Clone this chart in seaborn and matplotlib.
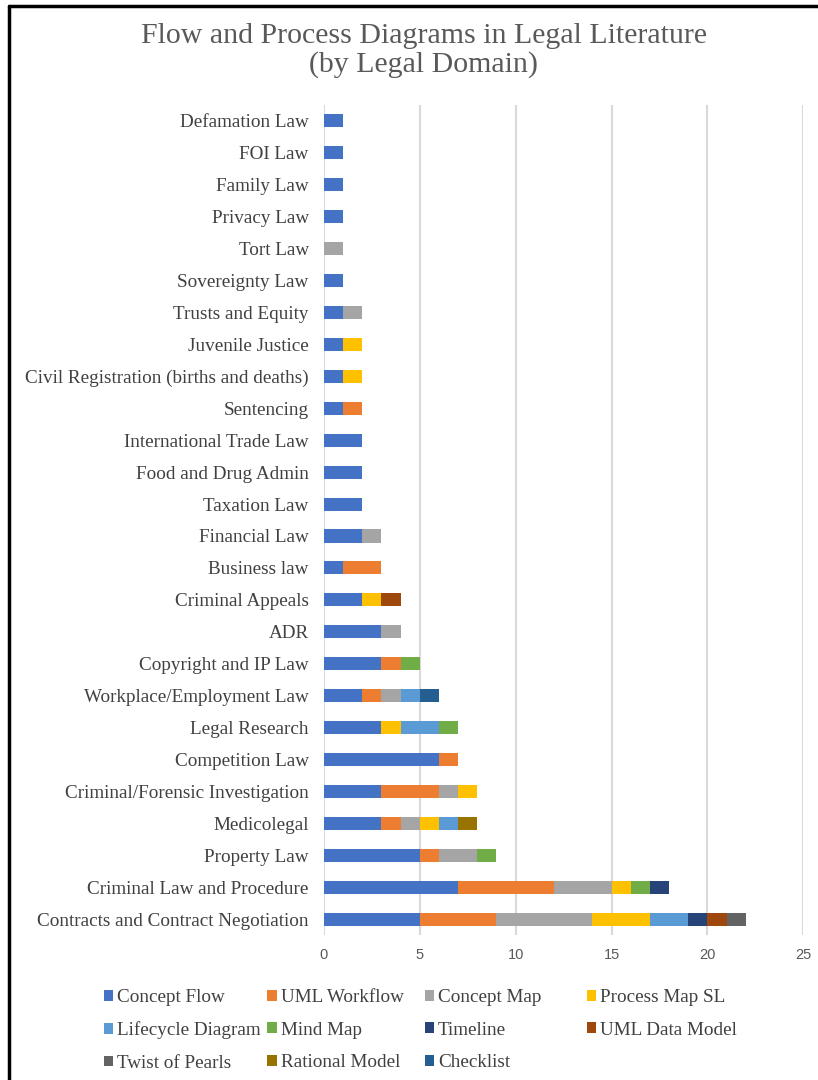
#!/usr/bin/env python3
"""Stacked horizontal bars: flow and process diagrams in legal literature by domain."""

import matplotlib
matplotlib.use("Agg")
import matplotlib.pyplot as plt
import pandas as pd
import seaborn as sns
from matplotlib.lines import Line2D
from matplotlib.patches import Patch

OUTPUT_PATH = "out.png"

DOMAINS = [
    "Defamation Law", "FOI Law", "Family Law", "Privacy Law", "Tort Law",
    "Sovereignty Law", "Trusts and Equity", "Juvenile Justice",
    "Civil Registration (births and deaths)", "Sentencing",
    "International Trade Law", "Food and Drug Admin", "Taxation Law",
    "Financial Law", "Business law", "Criminal Appeals", "ADR",
    "Copyright and IP Law", "Workplace/Employment Law", "Legal Research",
    "Competition Law", "Criminal/Forensic Investigation", "Medicolegal",
    "Property Law", "Criminal Law and Procedure",
    "Contracts and Contract Negotiation",
]

SERIES = [
    "Concept Flow", "UML Workflow", "Concept Map", "Process Map SL",
    "Lifecycle Diagram", "Mind Map", "Timeline", "UML Data Model",
    "Twist of Pearls", "Rational Model", "Checklist",
]

COLORS = [
    "#4472C4", "#ED7D31", "#A5A5A5", "#FFC000", "#5B9BD5", "#70AD47",
    "#264478", "#9E480E", "#636363", "#997300", "#255E91",
]

# counts per domain, same order as DOMAINS
concept_flow = [1, 1, 1, 1, 0, 1, 1, 1, 1, 1, 2, 2, 2, 2, 1, 2, 3, 3, 2, 3, 6, 3, 3, 5, 7, 5]
uml_workflow = [0, 0, 0, 0, 0, 0, 0, 0, 0, 1, 0, 0, 0, 0, 2, 0, 0, 1, 1, 0, 1, 3, 1, 1, 5, 4]
concept_map = [0, 0, 0, 0, 1, 0, 1, 0, 0, 0, 0, 0, 0, 1, 0, 0, 1, 0, 1, 0, 0, 1, 1, 2, 3, 5]
process_map_sl = [0, 0, 0, 0, 0, 0, 0, 1, 1, 0, 0, 0, 0, 0, 0, 1, 0, 0, 0, 1, 0, 1, 1, 0, 1, 3]
lifecycle = [0, 0, 0, 0, 0, 0, 0, 0, 0, 0, 0, 0, 0, 0, 0, 0, 0, 0, 1, 2, 0, 0, 1, 0, 0, 2]
mind_map = [0, 0, 0, 0, 0, 0, 0, 0, 0, 0, 0, 0, 0, 0, 0, 0, 0, 1, 0, 1, 0, 0, 0, 1, 1, 0]
timeline = [0, 0, 0, 0, 0, 0, 0, 0, 0, 0, 0, 0, 0, 0, 0, 0, 0, 0, 0, 0, 0, 0, 0, 0, 1, 1]
uml_data_model = [0, 0, 0, 0, 0, 0, 0, 0, 0, 0, 0, 0, 0, 0, 0, 1, 0, 0, 0, 0, 0, 0, 0, 0, 0, 1]
twist_of_pearls = [0, 0, 0, 0, 0, 0, 0, 0, 0, 0, 0, 0, 0, 0, 0, 0, 0, 0, 0, 0, 0, 0, 0, 0, 0, 1]
rational_model = [0, 0, 0, 0, 0, 0, 0, 0, 0, 0, 0, 0, 0, 0, 0, 0, 0, 0, 0, 0, 0, 0, 1, 0, 0, 0]
checklist = [0, 0, 0, 0, 0, 0, 0, 0, 0, 0, 0, 0, 0, 0, 0, 0, 0, 0, 1, 0, 0, 0, 0, 0, 0, 0]

TEXT_COLOR = "#404040"
SERIF = ["Liberation Serif", "DejaVu Serif"]


def build_frame() -> pd.DataFrame:
    values = [
        concept_flow, uml_workflow, concept_map, process_map_sl, lifecycle,
        mind_map, timeline, uml_data_model, twist_of_pearls, rational_model,
        checklist,
    ]
    df = pd.DataFrame(dict(zip(SERIES, values)))
    df.insert(0, "domain", DOMAINS)
    return df


def plot(df: pd.DataFrame) -> None:
    sns.set_theme(style="white")
    fig = plt.figure(figsize=(8.18, 10.8), dpi=100)
    ax = fig.add_axes([0.396, 0.134, 0.586, 0.769])

    # stacked bars: draw cumulative totals from the last series back to the first
    for i in range(len(SERIES) - 1, -1, -1):
        cumulative = df[SERIES[: i + 1]].sum(axis=1)
        sns.barplot(
            x=cumulative, y=df["domain"], orient="h", color=COLORS[i],
            width=0.41, saturation=1, linewidth=0, ax=ax, zorder=3,
        )

    ax.set_xlim(0, 25)
    ax.set_xticks(range(0, 26, 5))
    ax.set_ylim(len(DOMAINS) - 0.5, -0.5)
    ax.grid(axis="x", color="#D9D9D9", linewidth=1.5, zorder=0)
    ax.grid(axis="y", visible=False)
    for spine in ax.spines.values():
        spine.set_visible(False)
    ax.set_xlabel("")
    ax.set_ylabel("")
    ax.tick_params(axis="both", length=0)
    ax.tick_params(axis="x", pad=9.5, labelsize=10.5, labelcolor="#595959")
    ax.tick_params(axis="y", pad=11)
    for label in ax.get_yticklabels():
        label.set_family(SERIF)
        label.set_fontsize(13.8)
        label.set_color(TEXT_COLOR)
    for label in ax.get_xticklabels():
        label.set_family(["Liberation Sans", "DejaVu Sans"])

    fig.text(
        0.518, 0.953, "Flow and Process Diagrams in Legal Literature\n(by Legal Domain)",
        ha="center", va="center", fontsize=21.5, family=SERIF, color="#595959",
        linespacing=1.12,
    )

    # legend laid out like the original: 4 columns, filled row by row
    handles = [Patch(facecolor=c, edgecolor="none") for c in COLORS]
    column_x = [0.127, 0.327, 0.519, 0.717]
    for col, x in enumerate(column_x):
        idx = list(range(col, len(SERIES), 4))
        fig.legend(
            [handles[i] for i in idx], [SERIES[i] for i in idx],
            loc="upper left", bbox_to_anchor=(x, 0.084), frameon=False,
            prop={"family": SERIF, "size": 13.8}, labelcolor=TEXT_COLOR,
            handlelength=0.5, handleheight=0.5, handletextpad=0.2,
            labelspacing=0.8, borderpad=0, borderaxespad=0,
        )

    # frame around the picture (right and bottom edges fall outside the crop)
    fig.add_artist(Line2D([0.011, 0.011], [0.0, 0.994], color="black", linewidth=2.5))
    fig.add_artist(Line2D([0.011, 1.0], [0.994, 0.994], color="black", linewidth=2.5))

    fig.savefig(OUTPUT_PATH, dpi=100, facecolor="white")
    plt.close(fig)


def main() -> None:
    df = build_frame()
    plot(df)


if __name__ == "__main__":
    main()
